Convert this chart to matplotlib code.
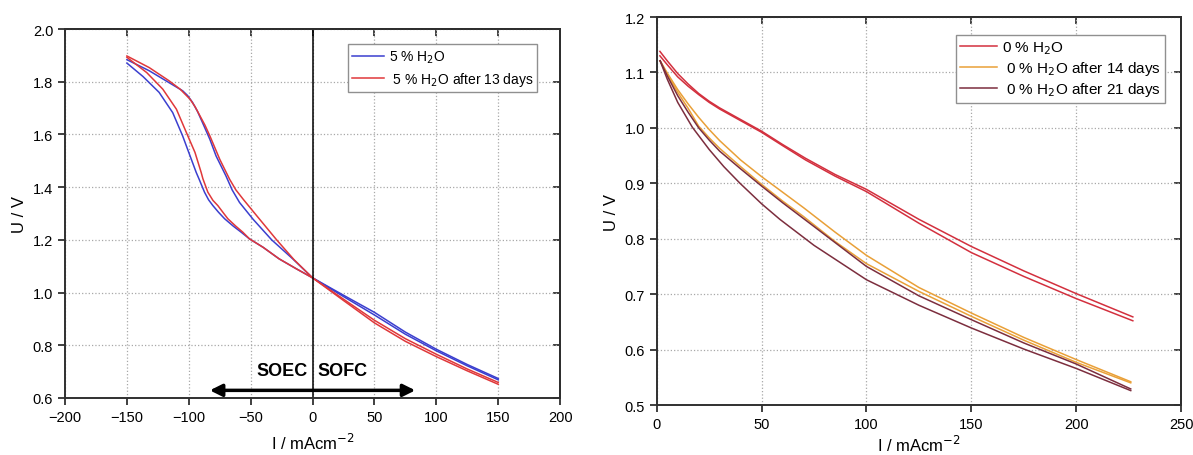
import numpy as np
import matplotlib
matplotlib.use('Agg')
import matplotlib.pyplot as plt

plt.rcParams['font.family'] = ['Liberation Sans', 'DejaVu Sans']

# --- left panel: 5 % H2O, two sweeps per measurement
blue_fwd_I = [-150, -137, -124, -113, -105, -99, -94, -91.8, -87.3, -84, -80.5, -76, -71, -64, -57.6, -51,
              -40, -27, -13, 0, 25, 50, 75, 100, 125, 150]
blue_fwd_U = [1.871, 1.82, 1.76, 1.683, 1.595, 1.519, 1.456, 1.432, 1.381, 1.352, 1.33, 1.305, 1.28, 1.252,
              1.229, 1.204, 1.172, 1.128, 1.09, 1.056, 0.985, 0.915, 0.842, 0.779, 0.722, 0.669]
blue_rev_I = [150, 125, 100, 75, 50, 25, 0, -16, -33, -48, -59, -65, -70, -78, -83, -89, -93, -97, -101,
              -105, -116, -132, -150]
blue_rev_U = [0.674, 0.727, 0.785, 0.85, 0.925, 0.99, 1.056, 1.128, 1.2, 1.278, 1.342, 1.39, 1.443, 1.519,
              1.582, 1.646, 1.688, 1.722, 1.748, 1.766, 1.797, 1.842, 1.884]

red_fwd_I = [-150, -134, -121, -110, -102, -95, -90, -88.6, -84.6, -80.5, -76.5, -72, -68.4, -62, -56.3, -51,
             -40, -27, -13, 0, 25, 50, 75, 100, 125, 150]
red_fwd_U = [1.893, 1.835, 1.772, 1.696, 1.608, 1.532, 1.456, 1.432, 1.381, 1.35, 1.33, 1.302, 1.28, 1.252,
             1.229, 1.204, 1.172, 1.128, 1.09, 1.056, 0.97, 0.885, 0.815, 0.757, 0.703, 0.652]
red_rev_I = [150, 125, 100, 75, 50, 25, 0, -15, -29, -45, -56, -62, -67, -75, -83, -87, -91, -95, -99, -107,
             -116, -132, -150]
red_rev_U = [0.659, 0.71, 0.766, 0.825, 0.895, 0.975, 1.056, 1.125, 1.2, 1.291, 1.354, 1.39, 1.43, 1.506,
             1.595, 1.636, 1.671, 1.706, 1.734, 1.772, 1.804, 1.854, 1.898]

# --- right panel: 0 % H2O
I_r = [1.5, 5, 10, 15, 20, 25, 30, 40, 50, 60, 71, 85, 100, 125, 150, 175, 200, 227]
dry_a = [1.138, 1.121, 1.098, 1.079, 1.062, 1.048, 1.036, 1.015, 0.994, 0.97, 0.945, 0.916, 0.889, 0.835,
         0.786, 0.742, 0.701, 0.659]
dry_b = [1.130, 1.114, 1.092, 1.075, 1.060, 1.046, 1.034, 1.013, 0.992, 0.968, 0.942, 0.913, 0.885, 0.828,
         0.775, 0.732, 0.692, 0.652]

I_o = [1.6, 5, 10, 15, 20, 25, 30, 40, 50, 60, 70, 85, 100, 125, 150, 175, 200, 226]
d14_a = [1.121, 1.099, 1.069, 1.043, 1.019, 0.997, 0.977, 0.942, 0.912, 0.884, 0.856, 0.812, 0.77, 0.712,
         0.666, 0.622, 0.582, 0.542]
d14_b = [1.121, 1.097, 1.064, 1.035, 1.003, 0.982, 0.963, 0.93, 0.898, 0.868, 0.84, 0.795, 0.755, 0.705,
         0.66, 0.617, 0.577, 0.54]

I_b = [1.6, 5, 10, 15, 20, 25, 30, 40, 50, 60, 75, 100, 125, 150, 175, 200, 226]
d21_a = [1.121, 1.094, 1.058, 1.028, 1.0, 0.978, 0.958, 0.926, 0.895, 0.865, 0.822, 0.75, 0.697, 0.654,
         0.612, 0.574, 0.529]
I_b2 = [1.6, 5, 10, 17, 25, 32, 39.7, 50, 58.7, 75, 100, 125, 150, 175, 200, 226]
d21_b = [1.121, 1.088, 1.046, 1.001, 0.961, 0.93, 0.9, 0.863, 0.835, 0.788, 0.726, 0.68, 0.639, 0.601,
         0.566, 0.526]

blue = '#3b3fcf'
red_l = '#e0383a'
red_r = '#d3303e'
orange = '#e9a038'
brown = '#7c2e3e'

fig = plt.figure(figsize=(11.93, 4.56), dpi=100)
ax1 = fig.add_axes([0.0545, 0.125, 0.415, 0.809])
ax2 = fig.add_axes([0.5505, 0.1096, 0.4395, 0.8509])

lw = 1.1
ax1.plot(blue_fwd_I, blue_fwd_U, color=blue, lw=lw, label='5 % H$_2$O')
ax1.plot(blue_rev_I, blue_rev_U, color=blue, lw=lw)
ax1.plot(red_fwd_I, red_fwd_U, color=red_l, lw=lw, label=' 5 % H$_2$O after 13 days')
ax1.plot(red_rev_I, red_rev_U, color=red_l, lw=lw)
ax1.axvline(0, color='k', lw=1.1, zorder=2.5)
ax1.set_xlim(-200, 200)
ax1.set_ylim(0.6, 2.0)
ax1.set_xticks(np.arange(-200, 201, 50))
ax1.set_yticks(np.arange(0.6, 2.01, 0.2))
ax1.set_yticklabels(['%.1f' % v for v in np.arange(0.6, 2.01, 0.2)])
ax1.text(-25, 0.703, 'SOEC', ha='center', va='center', fontsize=13, fontweight='bold')
ax1.text(24, 0.703, 'SOFC', ha='center', va='center', fontsize=13, fontweight='bold')
ax1.annotate('', xy=(-83, 0.629), xytext=(83, 0.629),
             arrowprops=dict(arrowstyle='<|-|>', lw=2.5, color='k', mutation_scale=18,
                             shrinkA=0, shrinkB=0))
ax1.set_xlabel('I / mAcm$^{-2}$', fontsize=12, labelpad=6)
ax1.set_ylabel('U / V', fontsize=12)

ax2.plot(I_r, dry_a, color=red_r, lw=lw, label='0 % H$_2$O')
ax2.plot(I_r, dry_b, color=red_r, lw=lw)
ax2.plot(I_o, d14_a, color=orange, lw=lw, label=' 0 % H$_2$O after 14 days')
ax2.plot(I_o, d14_b, color=orange, lw=lw)
ax2.plot(I_b, d21_a, color=brown, lw=lw, label=' 0 % H$_2$O after 21 days')
ax2.plot(I_b2, d21_b, color=brown, lw=lw)
ax2.set_xlim(0, 250)
ax2.set_ylim(0.5, 1.2)
ax2.set_xticks(np.arange(0, 251, 50))
ax2.set_yticks(np.arange(0.5, 1.21, 0.1))
ax2.set_yticklabels(['%.1f' % v for v in np.arange(0.5, 1.21, 0.1)])
ax2.set_xlabel('I / mAcm$^{-2}$', fontsize=12, labelpad=2)
ax2.set_ylabel('U / V', fontsize=12, labelpad=4)

for ax in (ax1, ax2):
    ax.grid(True, color='#a8a8a8', ls=':', lw=0.9)
    for s in ax.spines.values():
        s.set_linewidth(1.4)
        s.set_color('#303030')
    ax.tick_params(direction='out', length=5, width=1.3, labelsize=10.5, color='#303030')
    top = ax.secondary_xaxis('top')
    top.set_xticks(ax.get_xticks())
    top.tick_params(direction='in', length=5, width=1.3, labeltop=False, color='#303030')
    top.spines['top'].set_linewidth(1.4)
    right = ax.secondary_yaxis('right')
    right.set_yticks(ax.get_yticks())
    right.tick_params(direction='in', length=5, width=1.3, labelright=False, color='#303030')
    right.spines['right'].set_linewidth(1.4)

ax1.legend(loc='upper right', bbox_to_anchor=(0.954, 0.959), fontsize=10, fancybox=False,
           edgecolor='#909090', framealpha=1, handlelength=2.3, handletextpad=0.3,
           borderpad=0.3, labelspacing=0.35, borderaxespad=0)
ax2.legend(loc='upper right', bbox_to_anchor=(0.9695, 0.954), fontsize=11, fancybox=False,
           edgecolor='#909090', framealpha=1, handlelength=2.4, handletextpad=0.3,
           borderpad=0.3, labelspacing=0.2, borderaxespad=0)

fig.savefig('out.png', dpi=100)
